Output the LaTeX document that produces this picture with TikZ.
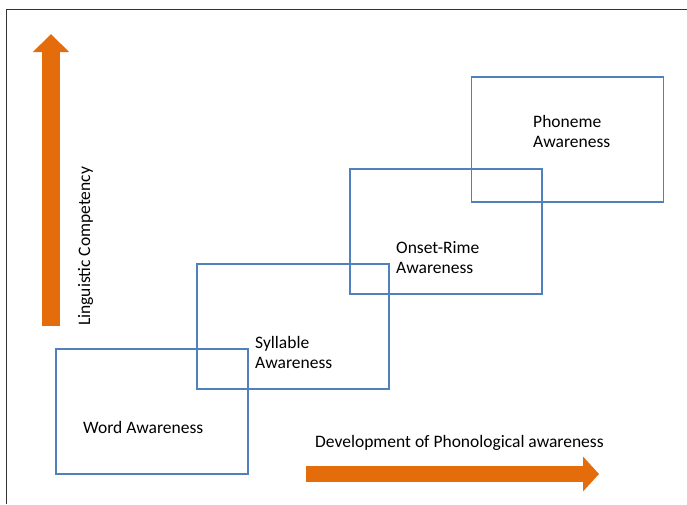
\documentclass[tikz,border=0pt]{standalone}
\usepackage{fontspec}
\setmainfont{Carlito}
\usetikzlibrary{arrows.meta}
\definecolor{diagramStage}{HTML}{4F81BD}
\definecolor{diagramAxis}{HTML}{E46C0A}
\definecolor{diagramFrame}{HTML}{333333}

\begin{document}
\begin{tikzpicture}[
    x=1pt,y=-1pt,
    every node/.style={font=\fontsize{17.5}{20}\selectfont,inner sep=0pt},
    stage/.style={draw=diagramStage,line width=1.6pt,minimum width=192pt,minimum height=125pt},
    stagetext/.style={anchor=base west,align=left},
    axis/.style={draw=diagramAxis,line width=18pt,-{Triangle[width=35pt,length=18pt]}}
]
\useasboundingbox (0,0) rectangle (687,504);
\coordinate (framebl) at (6.5,504);
\coordinate (frametl) at (6.5,9.5);
\coordinate (frametr) at (687,9.5);
\draw[diagramFrame,line width=1.8pt] (framebl) -- (frametl) -- (frametr);

\node[stage] (word) at (152,411.5) {};
\node[stage] (syllable) at (293,326.3) {};
\node[stage] (onset) at (446,231.7) {};
\node[stage] (phoneme) at (567.5,139.2) {};

\node[stagetext] (wordtext) at (83,433) {Word Awareness};
\node[stagetext] (syllabletext) at (255,368) {Syllable\\Awareness};
\node[stagetext] (onsettext) at (396,273) {Onset-Rime\\Awareness};
\node[stagetext] (phonemetext) at (533,147) {Phoneme\\Awareness};

\coordinate (compbot) at (51,326);
\coordinate (comptop) at (51,34);
\draw[axis] (compbot) -- (comptop);
\node[stagetext,rotate=90] (complabel) at (90,326) {Linguistic Competency};

\coordinate (devstart) at (306,474);
\coordinate (devend) at (599,474);
\draw[axis,line width=16pt,-{Triangle[width=34pt,length=16pt]}] (devstart) -- (devend);
\node[stagetext] (devlabel) at (315,447) {Development of Phonological awareness};
\end{tikzpicture}
\end{document}
